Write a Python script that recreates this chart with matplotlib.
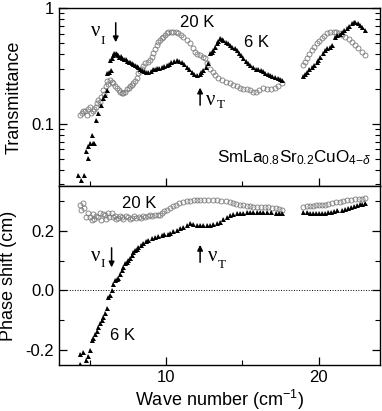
import numpy as np
import matplotlib
matplotlib.use("Agg")
import matplotlib.pyplot as plt
from matplotlib.ticker import LogLocator, NullFormatter, MultipleLocator

plt.rcParams['font.family'] = ['Liberation Sans', 'DejaVu Sans']
plt.rcParams['mathtext.fontset'] = 'custom'
plt.rcParams['mathtext.rm'] = 'Liberation Sans'
plt.rcParams['mathtext.it'] = 'Liberation Sans:italic'

# transmittance, 6 K (triangles)
tr6_x = [4.26, 4.65, 4.43, 4.78, 4.87, 4.87, 5.02, 5.17, 5.24, 5.30, 5.40, 5.57,
         5.74, 5.89, 6.0, 6.12, 6.12, 6.27, 6.40, 6.33, 6.44, 6.55, 6.61, 6.74,
         6.82, 6.88, 6.95, 7.05, 7.15, 7.25, 7.35, 7.45, 7.55, 7.65, 7.75, 7.85,
         7.97, 8.08, 8.19, 8.3, 8.41, 8.55, 8.7, 8.84, 9.0, 9.14, 9.28, 9.42,
         9.56, 9.72, 9.86, 10.04, 10.2, 10.35, 10.5, 10.7, 10.87, 11.03, 11.2,
         11.35, 11.5, 11.68, 11.84, 12.0, 12.2, 12.32, 12.44, 12.6, 12.77, 12.88,
         13.0, 13.1, 13.2, 13.32, 13.43, 13.54, 13.65, 13.75, 13.9, 14.05, 14.19,
         14.34, 14.49, 14.63, 14.78, 14.92, 15.06, 15.2, 15.35, 15.5, 15.72,
         15.9, 16.05, 16.2, 16.37, 16.5, 16.65, 16.8, 16.95, 17.14, 17.3, 17.45,
         17.58,
         18.99, 19.1, 19.2, 19.35, 19.54, 19.7, 19.85, 19.97, 20.1, 20.25, 20.4,
         20.55, 20.7, 20.85, 21.07, 21.2, 21.35, 21.5, 21.65, 21.83, 22.0, 22.16,
         22.3, 22.38, 22.55, 22.7, 22.85, 23.03]
tr6_y = [0.036, 0.036, 0.033, 0.058, 0.064, 0.051, 0.068, 0.080, 0.068, 0.068,
         0.108, 0.124, 0.146, 0.166, 0.178, 0.196, 0.274, 0.28, 0.292, 0.356,
         0.368, 0.39, 0.407, 0.407, 0.40, 0.39, 0.38, 0.385, 0.37, 0.365, 0.36,
         0.35, 0.345, 0.34, 0.335, 0.33, 0.323, 0.315, 0.31, 0.30, 0.292, 0.285,
         0.28, 0.28, 0.285, 0.295, 0.30, 0.305, 0.305, 0.31, 0.315, 0.32, 0.33,
         0.34, 0.35, 0.356, 0.35, 0.345, 0.33, 0.31, 0.295, 0.28, 0.27, 0.265,
         0.27, 0.28, 0.29, 0.31, 0.334, 0.407, 0.42, 0.435, 0.465, 0.496, 0.52,
         0.548, 0.54, 0.53, 0.51, 0.495, 0.48, 0.465, 0.45, 0.435, 0.41, 0.39,
         0.368, 0.35, 0.335, 0.32, 0.31, 0.30, 0.295, 0.29, 0.285, 0.273, 0.27,
         0.265, 0.26, 0.256, 0.25, 0.245, 0.24,
         0.26, 0.27, 0.28, 0.295, 0.31, 0.325, 0.34, 0.356, 0.38, 0.41, 0.435,
         0.45, 0.465, 0.48, 0.566, 0.58, 0.60, 0.625, 0.645, 0.668, 0.70, 0.738,
         0.755, 0.762, 0.735, 0.71, 0.68, 0.646]

# transmittance, 20 K (open circles)
tr20_x = [4.37, 4.5, 4.6, 4.7, 4.8, 4.9, 5.02, 5.1, 5.2, 5.3, 5.4, 5.5, 5.57,
          5.65, 5.75, 5.89, 5.95, 6.05, 6.12, 6.2, 6.33, 6.45, 6.55, 6.65, 6.77,
          6.9, 7.0, 7.1, 7.2, 7.31, 7.45, 7.55, 7.64, 7.75, 7.85, 7.97, 8.08,
          8.19, 8.3, 8.41, 8.52, 8.62, 8.8, 8.95, 9.06, 9.17, 9.28, 9.39, 9.5,
          9.6, 9.72, 9.82, 9.93, 10.04, 10.15, 10.3, 10.48, 10.65, 10.8, 10.95,
          11.13, 11.35, 11.57, 11.75, 11.9, 12.05, 12.2, 12.4, 12.55, 12.7, 12.88,
          13.05, 13.2, 13.4, 13.65, 13.9, 14.19, 14.4, 14.63, 14.85, 15.05, 15.28,
          15.5, 15.72, 15.9, 16.1, 16.37, 16.6, 16.85, 17.14, 17.35, 17.58,
          18.99, 19.1, 19.21, 19.38, 19.54, 19.7, 19.87, 20.03, 20.2, 20.35,
          20.52, 20.7, 20.96, 21.1, 21.29, 21.5, 21.72, 21.95, 22.16, 22.38,
          22.59, 22.8, 23.03]
tr20_y = [0.12, 0.125, 0.13, 0.128, 0.12, 0.135, 0.141, 0.125, 0.13, 0.135,
          0.14, 0.15, 0.161, 0.155, 0.17, 0.196, 0.18, 0.21, 0.232, 0.22, 0.24,
          0.23, 0.224, 0.21, 0.203, 0.195, 0.19, 0.184, 0.186, 0.19, 0.2, 0.205,
          0.21, 0.215, 0.225, 0.232, 0.25, 0.273, 0.285, 0.30, 0.315, 0.333,
          0.345, 0.356, 0.38, 0.407, 0.44, 0.48, 0.505, 0.53, 0.55, 0.566, 0.585,
          0.605, 0.615, 0.62, 0.625, 0.62, 0.605, 0.585, 0.566, 0.53, 0.496,
          0.455, 0.42, 0.40, 0.39, 0.38, 0.368, 0.335, 0.30, 0.28, 0.265, 0.25,
          0.24, 0.23, 0.224, 0.215, 0.21, 0.205, 0.2, 0.199, 0.195, 0.19, 0.19,
          0.195, 0.203, 0.2, 0.2, 0.203, 0.21, 0.224,
          0.323, 0.345, 0.368, 0.40, 0.435, 0.465, 0.496, 0.52, 0.548, 0.575,
          0.605, 0.615, 0.625, 0.615, 0.605, 0.585, 0.566, 0.54, 0.512, 0.48,
          0.45, 0.42, 0.394]

# phase shift, 6 K (triangles)
ph6_x = [4.37, 4.37, 4.57, 4.79, 4.9, 5.02, 5.13, 5.25, 5.35, 5.46, 5.57, 5.68,
         5.79, 5.9, 6.0, 6.12, 6.22, 6.33, 6.44, 6.55, 6.66, 6.77, 6.88, 6.99,
         7.1, 7.2, 7.31, 7.42, 7.53, 7.64, 7.75, 7.86, 7.97, 8.08, 8.19, 8.35,
         8.52, 8.68, 8.84, 9.06, 9.28, 9.5, 9.72, 9.9, 10.1, 10.26, 10.48, 10.7,
         10.92, 11.14, 11.35, 11.57, 11.78, 12.0, 12.2, 12.45, 12.66, 12.88,
         13.1, 13.32, 13.54, 13.75, 13.97, 14.19, 14.41, 14.63, 14.85, 15.06,
         15.28, 15.5, 15.72, 15.94, 16.15, 16.37, 16.6, 16.9, 17.2, 17.4, 17.58,
         18.99, 19.2, 19.4, 19.6, 19.8, 20.0, 20.2, 20.4, 20.6, 20.8, 21.0, 21.2,
         21.5, 21.7, 21.9, 22.1, 22.3, 22.5, 22.7, 22.85, 23.03]
ph6_y = [-0.245, -0.212, -0.206, -0.234, -0.22, -0.2, -0.167, -0.16, -0.145,
         -0.135, -0.122, -0.11, -0.1, -0.09, -0.077, -0.06, -0.021, -0.015,
         0.001, 0.02, 0.035, 0.038, 0.04, 0.055, 0.068, 0.08, 0.091, 0.095,
         0.102, 0.11, 0.119, 0.128, 0.135, 0.14, 0.147, 0.152, 0.158, 0.165,
         0.169, 0.175, 0.18, 0.183, 0.186, 0.188, 0.19, 0.192, 0.198, 0.203,
         0.208, 0.214, 0.22, 0.225, 0.222, 0.22, 0.219, 0.218, 0.218, 0.219,
         0.222, 0.226, 0.231, 0.238, 0.246, 0.253, 0.256, 0.258, 0.259, 0.261,
         0.262, 0.263, 0.264, 0.264, 0.264, 0.264, 0.263, 0.262, 0.261, 0.26,
         0.259,
         0.264, 0.262, 0.26, 0.259, 0.259, 0.259, 0.259, 0.26, 0.262, 0.264,
         0.266, 0.268, 0.27, 0.273, 0.277, 0.28, 0.283, 0.286, 0.289, 0.29, 0.292]

# phase shift, 20 K (open circles)
ph20_x = [4.37, 4.46, 4.57, 4.65, 4.79, 4.9, 5.0, 5.13, 5.2, 5.3, 5.4, 5.57,
          5.65, 5.75, 5.85, 6.0, 6.1, 6.2, 6.3, 6.44, 6.55, 6.65, 6.75, 6.87,
          7.0, 7.1, 7.2, 7.35, 7.5, 7.62, 7.75, 7.9, 8.05, 8.2, 8.35, 8.5, 8.62,
          8.8, 8.95, 9.1, 9.28, 9.45, 9.6, 9.72, 9.9, 10.05, 10.26, 10.45, 10.65,
          10.85, 11.13, 11.35, 11.57, 11.8, 12.0, 12.25, 12.5, 12.75, 13.1,
          13.35, 13.6, 13.9, 14.19, 14.4, 14.6, 14.85, 15.05, 15.28, 15.5, 15.72,
          15.95, 16.2, 16.48, 16.7, 16.95, 17.2, 17.4, 17.58,
          18.99, 19.2, 19.4, 19.6, 19.8, 20.0, 20.2, 20.4, 20.6, 20.85, 21.1,
          21.35, 21.6, 21.85, 22.1, 22.35, 22.6, 22.8, 23.03]
ph20_y = [0.287, 0.27, 0.292, 0.275, 0.247, 0.26, 0.245, 0.236, 0.255, 0.24,
          0.25, 0.247, 0.26, 0.235, 0.255, 0.253, 0.24, 0.26, 0.245, 0.259,
          0.245, 0.25, 0.24, 0.242, 0.25, 0.245, 0.24, 0.248, 0.245, 0.24,
          0.242, 0.248, 0.243, 0.245, 0.243, 0.248, 0.247, 0.25, 0.252, 0.25,
          0.254, 0.252, 0.253, 0.259, 0.265, 0.27, 0.276, 0.282, 0.288, 0.293,
          0.298, 0.3, 0.301, 0.302, 0.303, 0.303, 0.303, 0.302, 0.303, 0.302,
          0.3, 0.299, 0.298, 0.294, 0.29, 0.287, 0.285, 0.283, 0.282, 0.281,
          0.281, 0.281, 0.281, 0.279, 0.277, 0.275, 0.272, 0.27,
          0.281, 0.282, 0.283, 0.284, 0.285, 0.286, 0.287, 0.288, 0.29, 0.292,
          0.295, 0.298, 0.3, 0.302, 0.304, 0.306, 0.307, 0.308, 0.309]

fig = plt.figure(figsize=(3.82, 4.11), dpi=100)
ax1 = fig.add_axes([0.1545, 0.5474, 0.8403, 0.4331])
ax2 = fig.add_axes([0.1545, 0.1119, 0.8403, 0.4355])

tri = dict(linestyle='none', marker='^', markersize=3.6, color='black',
           markeredgewidth=0)
circ = dict(linestyle='none', marker='o', markersize=3.6,
            markerfacecolor='none', markeredgecolor='#7a7a7a',
            markeredgewidth=0.6)

ax1.plot(tr20_x, tr20_y, **circ)
ax1.plot(tr6_x, tr6_y, **tri)
ax2.axhline(0, color='black', linestyle=':', linewidth=0.7)
ax2.plot(ph20_x, ph20_y, **circ)
ax2.plot(ph6_x, ph6_y, **tri)

for ax in (ax1, ax2):
    ax.set_xlim(3, 24)
    ax.xaxis.set_major_locator(MultipleLocator(10))
    ax.xaxis.set_minor_locator(MultipleLocator(5))
    ax.tick_params(which='both', direction='in', right=True, top=False,
                   labelsize=12)
    ax.tick_params(which='major', length=6, width=0.9)
    ax.tick_params(which='minor', length=3.5, width=0.8)
    for s in ax.spines.values():
        s.set_linewidth(1.0)

ax1.set_yscale('log')
ax1.set_ylim(0.029, 1)
ax1.set_yticks([0.1, 1])
ax1.set_yticklabels(['0.1', '1'])
ax1.yaxis.set_minor_locator(LogLocator(base=10, subs=np.arange(2, 10)))
ax1.yaxis.set_minor_formatter(NullFormatter())
ax1.tick_params(labelbottom=False)
ax1.set_ylabel('Transmittance', fontsize=13)
ax1.yaxis.set_label_coords(-0.112, 0.5)

ax2.set_ylim(-0.25, 0.35)
ax2.yaxis.set_major_locator(MultipleLocator(0.2))
ax2.yaxis.set_minor_locator(MultipleLocator(0.1))
ax2.set_yticks([-0.2, 0.0, 0.2])
ax2.set_yticklabels(['-0.2', '0.0', '0.2'])
ax2.set_ylabel('Phase shift (cm)', fontsize=13)
ax2.yaxis.set_label_coords(-0.131, 0.5)
ax2.set_xlabel('Wave number (cm$^{-1}$)', fontsize=13, labelpad=2)

# labels
ax1.text(12.03, 0.757, '20 K', fontsize=12, ha='center', va='center')
ax1.text(15.9, 0.5, '6 K', fontsize=12, ha='center', va='center')
ax2.text(8.23, 0.293, '20 K', fontsize=12, ha='center', va='center')
ax2.text(7.18, -0.150, '6 K', fontsize=12, ha='center', va='center')
ax1.text(23.4, 0.0461, r'SmLa$_{0.8}$Sr$_{0.2}$CuO$_{4\mathrm{-}\delta}$',
         fontsize=12.3, ha='right', va='baseline')

# nu arrows
serif = 'Liberation Serif'
arr = dict(arrowstyle='-|>', color='black', lw=1.1, mutation_scale=8)
ax1.annotate('', xy=(6.71, 0.479), xytext=(6.71, 0.788), arrowprops=arr)
ax1.text(5.38, 0.627, 'ν', family=serif, fontsize=15, ha='center', va='center')
ax1.text(5.84, 0.52, 'I', family=serif, fontsize=9.5, ha='center', va='center')
ax1.annotate('', xy=(12.23, 0.217), xytext=(12.23, 0.137), arrowprops=arr)
ax1.text(12.95, 0.158, 'ν', family=serif, fontsize=15, ha='center', va='center')
ax1.text(13.56, 0.145, 'T', family=serif, fontsize=9.5, ha='center', va='center')

ax2.annotate('', xy=(6.44, 0.068), xytext=(6.44, 0.152), arrowprops=arr)
ax2.text(5.38, 0.115, 'ν', family=serif, fontsize=15, ha='center', va='center')
ax2.text(5.87, 0.087, 'I', family=serif, fontsize=9.5, ha='center', va='center')
ax2.annotate('', xy=(12.23, 0.162), xytext=(12.23, 0.085), arrowprops=arr)
ax2.text(13.05, 0.115, 'ν', family=serif, fontsize=15, ha='center', va='center')
ax2.text(13.66, 0.086, 'T', family=serif, fontsize=9.5, ha='center', va='center')

fig.savefig('out.png', dpi=100)
